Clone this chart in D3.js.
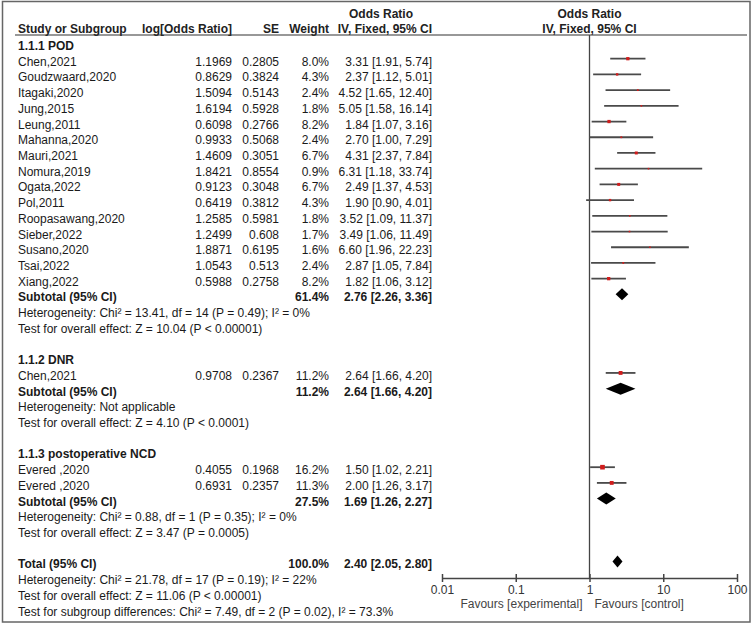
<!DOCTYPE html>
<html lang="en">
<head>
<meta charset="utf-8"/>
<title>Forest plot</title>
<script src="https://d3js.org/d3.v7.min.js"></script>
<style>
    body { margin: 0; background: #fff; }
    svg { display: block; font-family: "Liberation Sans", Arial, sans-serif; font-size: 12px; }
    .b { font-weight: bold; }
</style>
</head>
<body>
<svg id="chart" width="756" height="626"></svg>
<script>
    // study level data
    const groups = ["1.1.1 POD", "1.1.2 DNR", "1.1.3 postoperative NCD"];
    const studyNames = ["Chen,2021", "Goudzwaard,2020", "Itagaki,2020", "Jung,2015", "Leung,2011", "Mahanna,2020",
        "Mauri,2021", "Nomura,2019", "Ogata,2022", "Pol,2011", "Roopasawang,2020", "Sieber,2022", "Susano,2020",
        "Tsai,2022", "Xiang,2022", "Chen,2021", "Evered ,2020", "Evered ,2020"];
    const studyGroup = [0, 0, 0, 0, 0, 0, 0, 0, 0, 0, 0, 0, 0, 0, 0, 1, 2, 2];
    const logOR = ["1.1969", "0.8629", "1.5094", "1.6194", "0.6098", "0.9933", "1.4609", "1.8421", "0.9123", "0.6419",
        "1.2585", "1.2499", "1.8871", "1.0543", "0.5988", "0.9708", "0.4055", "0.6931"];
    const seVal = ["0.2805", "0.3824", "0.5143", "0.5928", "0.2766", "0.5068", "0.3051", "0.8554", "0.3048", "0.3812",
        "0.5981", "0.608", "0.6195", "0.513", "0.2758", "0.2367", "0.1968", "0.2357"];
    const weight = [8.0, 4.3, 2.4, 1.8, 8.2, 2.4, 6.7, 0.9, 6.7, 4.3, 1.8, 1.7, 1.6, 2.4, 8.2, 11.2, 16.2, 11.3];
    const orVal = [3.31, 2.37, 4.52, 5.05, 1.84, 2.70, 4.31, 6.31, 2.49, 1.90, 3.52, 3.49, 6.60, 2.87, 1.82, 2.64, 1.50, 2.00];
    const ciLow = [1.91, 1.12, 1.65, 1.58, 1.07, 1.00, 2.37, 1.18, 1.37, 0.90, 1.09, 1.06, 1.96, 1.05, 1.06, 1.66, 1.02, 1.26];
    const ciHigh = [5.74, 5.01, 12.40, 16.14, 3.16, 7.29, 7.84, 33.74, 4.53, 4.01, 11.37, 11.49, 22.23, 7.84, 3.12, 4.20, 2.21, 3.17];

    // subgroup summaries
    const subWeight = [61.4, 11.2, 27.5];
    const subOR = [2.76, 2.64, 1.69];
    const subLow = [2.26, 1.66, 1.26];
    const subHigh = [3.36, 4.20, 2.27];
    const subHet = ["Heterogeneity: Chi² = 13.41, df = 14 (P = 0.49); I² = 0%", "Heterogeneity: Not applicable",
        "Heterogeneity: Chi² = 0.88, df = 1 (P = 0.35); I² = 0%"];
    const subEffect = ["Test for overall effect: Z = 10.04 (P < 0.00001)", "Test for overall effect: Z = 4.10 (P < 0.0001)",
        "Test for overall effect: Z = 3.47 (P = 0.0005)"];

    // overall
    const totalWeight = 100.0;
    const totalOR = 2.40, totalLow = 2.05, totalHigh = 2.80;
    const totalNotes = ["Heterogeneity: Chi² = 21.78, df = 17 (P = 0.19); I² = 22%",
        "Test for overall effect: Z = 11.06 (P < 0.00001)",
        "Test for subgroup differences: Chi² = 7.49, df = 2 (P = 0.02), I² = 73.3%"];

    const tickValues = [0.01, 0.1, 1, 10, 100];
    const tickLabels = ["0.01", "0.1", "1", "10", "100"];
    const favours = ["Favours [experimental]", "Favours [control]"];

    const svg = d3.select("#chart");
    const fmtCI = (o, l, h) => o.toFixed(2) + " [" + l.toFixed(2) + ", " + h.toFixed(2) + "]";

    // build row list
    const rows = [];
    let r = 2;
    groups.forEach((g, gi) => {
        rows.push({row: r++, type: "head", label: g});
        studyNames.forEach((n, i) => {
            if (studyGroup[i] !== gi) return;
            rows.push({row: r++, type: "study", i: i});
        });
        rows.push({row: r++, type: "sub", g: gi});
        rows.push({row: r++, type: "note", label: subHet[gi]});
        rows.push({row: r++, type: "note", label: subEffect[gi]});
        r++;
    });
    rows.push({row: r++, type: "total"});
    totalNotes.forEach(t => rows.push({row: r++, type: "note", label: t}));

    const y = d3.scaleLinear().domain([3, 38]).range([58.7, 608.6]);
    const x = d3.scaleLog().domain([0.01, 100]).range([442, 737]);
    const axisY = 578;

    // frame
    svg.append("rect").attr("x", 2.5).attr("y", 1.5).attr("width", 747.5).attr("height", 620.5)
        .attr("fill", "none").attr("stroke", "#666").attr("stroke-width", 1.5);

    // headers
    const colStudy = 18, colLog = 232, colSE = 279, colW = 329, colOR = 432;
    const hdr = svg.append("g").attr("class", "b").attr("fill", "#222");
    hdr.append("text").attr("x", 381).attr("y", 18).attr("text-anchor", "middle").text("Odds Ratio");
    hdr.append("text").attr("x", x(1)).attr("y", 18).attr("text-anchor", "middle").text("Odds Ratio");
    [[colStudy, "start", "Study or Subgroup"], [colLog, "end", "log[Odds Ratio]"], [colSE, "end", "SE"],
        [colW, "end", "Weight"], [colOR, "end", "IV, Fixed, 95% CI"], [x(1), "middle", "IV, Fixed, 95% CI"]]
        .forEach(d => hdr.append("text").attr("x", d[0]).attr("y", 33).attr("text-anchor", d[1]).text(d[2]));
    svg.append("line").attr("x1", 15).attr("x2", 747).attr("y1", 35).attr("y2", 35)
        .attr("stroke", "#333").attr("stroke-width", 1.2);

    // vertical line of no effect
    svg.append("line").attr("x1", x(1)).attr("x2", x(1)).attr("y1", 35).attr("y2", axisY)
        .attr("stroke", "#444").attr("stroke-width", 1.3);

    const txt = svg.append("g").attr("fill", "#1a1a1a");
    const plot = svg.append("g");

    function put(xp, yp, anchor, s, bold) {
        txt.append("text").attr("x", xp).attr("y", yp).attr("text-anchor", anchor)
            .attr("class", bold ? "b" : null).text(s);
    }

    function diamond(o, l, h, yp) {
        const hh = 6;
        plot.append("path")
            .attr("d", `M${x(l)},${yp} L${x(o)},${yp - hh} L${x(h)},${yp} L${x(o)},${yp + hh} Z`)
            .attr("fill", "#000");
    }

    rows.forEach(d => {
        const yp = y(d.row), tb = yp + 7;
        if (d.type === "head") put(colStudy, tb, "start", d.label, true);
        if (d.type === "note") put(colStudy, tb, "start", d.label, false);
        if (d.type === "study") {
            const i = d.i;
            put(colStudy, tb, "start", studyNames[i]);
            put(colLog, tb, "end", logOR[i]);
            put(colSE, tb, "end", seVal[i]);
            put(colW, tb, "end", weight[i].toFixed(1) + "%");
            put(colOR, tb, "end", fmtCI(orVal[i], ciLow[i], ciHigh[i]));
            plot.append("line").attr("x1", x(ciLow[i])).attr("x2", x(ciHigh[i])).attr("y1", yp).attr("y2", yp)
                .attr("stroke", "#4a4a4a").attr("stroke-width", 1.8);
            const s = Math.max(1.6, 1.15 * Math.sqrt(weight[i]));
            plot.append("rect").attr("x", x(orVal[i]) - s / 2).attr("y", yp - s / 2)
                .attr("width", s).attr("height", s).attr("fill", "#d01c1c");
        }
        if (d.type === "sub") {
            const g = d.g;
            put(colStudy, tb, "start", "Subtotal (95% CI)", true);
            put(colW, tb, "end", subWeight[g].toFixed(1) + "%", true);
            put(colOR, tb, "end", fmtCI(subOR[g], subLow[g], subHigh[g]), true);
            diamond(subOR[g], subLow[g], subHigh[g], yp);
        }
        if (d.type === "total") {
            put(colStudy, tb, "start", "Total (95% CI)", true);
            put(colW, tb, "end", totalWeight.toFixed(1) + "%", true);
            put(colOR, tb, "end", fmtCI(totalOR, totalLow, totalHigh), true);
            diamond(totalOR, totalLow, totalHigh, yp);
        }
    });

    // axis
    const axis = d3.axisBottom(x).tickValues(tickValues).tickFormat((v, i) => tickLabels[i])
        .tickSizeInner(4).tickSizeOuter(0).tickPadding(3);
    const ax = svg.append("g").attr("transform", `translate(0,${axisY})`).call(axis);
    ax.select(".domain").attr("stroke", "#444").attr("stroke-width", 1.5);
    ax.selectAll(".tick line").attr("stroke", "#444").attr("stroke-width", 1.5).attr("y1", -4).attr("y2", 4);
    ax.selectAll(".tick text").attr("fill", "#333").attr("font-size", 12)
        .attr("font-family", "'Liberation Sans', Arial, sans-serif");

    svg.append("text").attr("x", x(1) - 7).attr("y", 608).attr("text-anchor", "end").attr("fill", "#444").text(favours[0]);
    svg.append("text").attr("x", x(1) + 5).attr("y", 608).attr("text-anchor", "start").attr("fill", "#444").text(favours[1]);
</script>
</body>
</html>
